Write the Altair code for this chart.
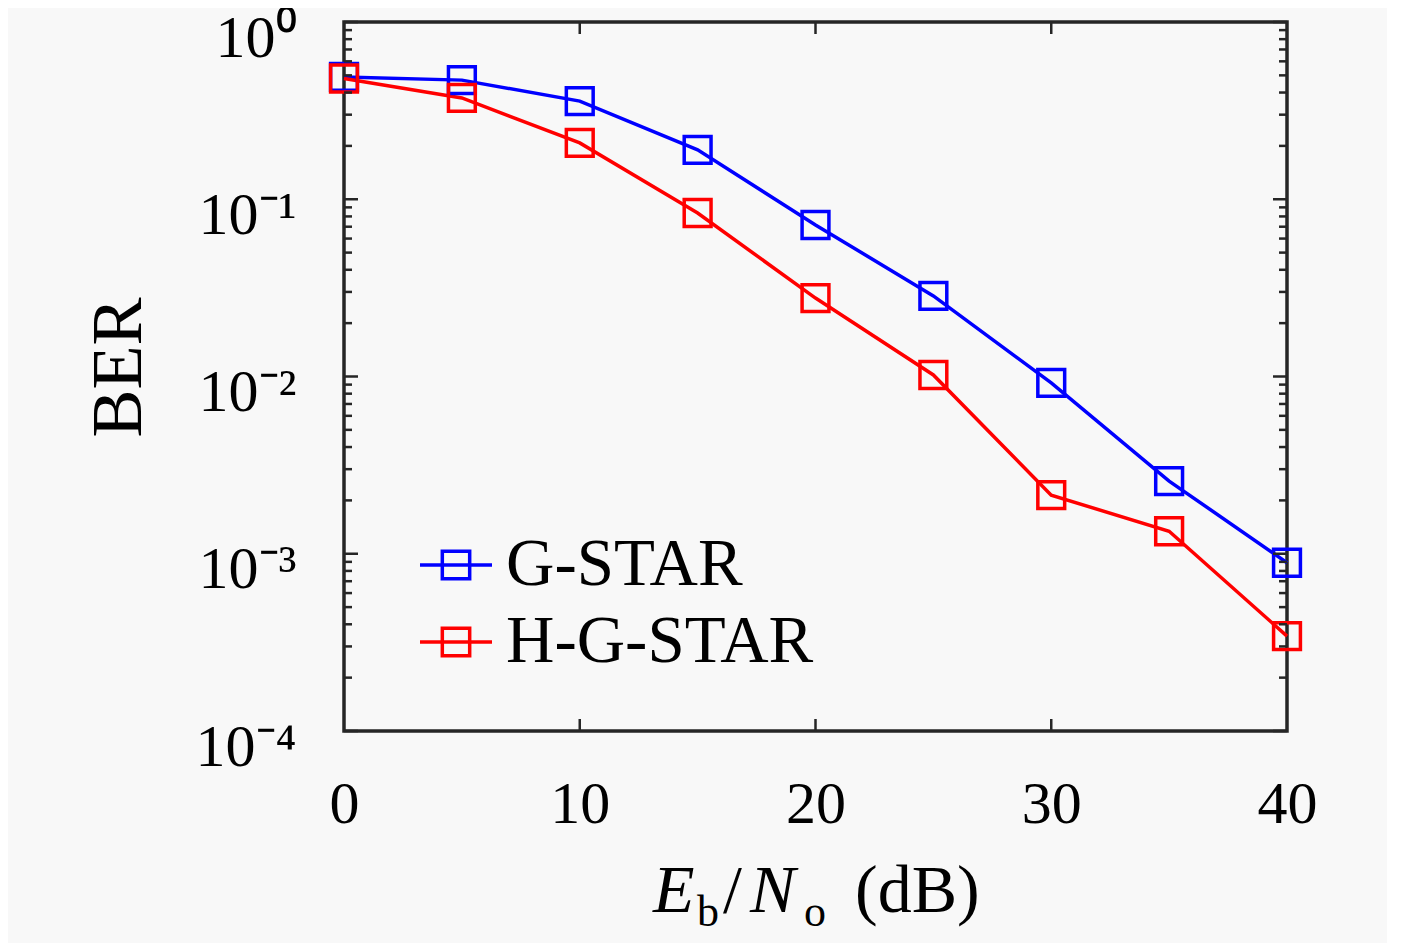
import altair as alt
import pandas as pd

snr = [0, 5, 10, 15, 20, 25, 30, 35, 40]
ber_g = [0.49, 0.47, 0.358, 0.19, 0.0716, 0.0285, 0.0092, 0.00257, 0.00089]
ber_hg = [0.48, 0.373, 0.208, 0.0836, 0.0277, 0.0102, 0.00214, 0.00134, 0.000343]
series = ["G-STAR", "H-G-STAR"]
colors = ["#0000ff", "#ff0000"]
y_ticks = [1e-4, 1e-3, 1e-2, 1e-1, 1]
y_labels = ["10⁻⁴", "10⁻³", "10⁻²", "10⁻¹", "10⁰"]
x_ticks = [0, 10, 20, 30, 40]

W, H = 943, 709
FONT = "Liberation Serif"
AX = "#262626"

df = pd.DataFrame({
    "snr": snr * 2,
    "ber": ber_g + ber_hg,
    "scheme": [series[0]] * len(snr) + [series[1]] * len(snr),
})

major = pd.DataFrame({"v": y_ticks})
minor = pd.DataFrame({"v": [m * 10.0 ** k for k in range(-4, 0) for m in range(2, 10)]})
xt = pd.DataFrame({"v": [10, 20, 30]})

xs = alt.Scale(domain=[0, 40], nice=False)
ys = alt.Scale(type="log", domain=[1e-4, 1], nice=False)

label_expr = "[" + ",".join("'%s'" % s for s in y_labels) + "][round(log(datum.value)/LN10)+4]"

color = alt.Color("scheme:N", scale=alt.Scale(domain=series, range=colors),
                  legend=alt.Legend(
                      title=None, orient="none", legendX=74, legendY=505,
                      symbolType="M-1,0H1M-0.38,-0.38H0.38V0.38H-0.38Z",
                      symbolSize=5184, symbolStrokeWidth=3.5,
                      symbolFillColor="transparent",
                      labelFont=FONT, labelFontSize=67, labelColor="#000",
                      labelOffset=12, rowPadding=6, padding=0,
                      labelLimit=600))

base = alt.Chart(df).encode(
    x=alt.X("snr:Q", scale=xs,
            axis=alt.Axis(values=x_ticks, title=None, ticks=False, domain=False,
                          grid=False, labelFont=FONT, labelFontSize=60,
                          labelColor="#000", labelPadding=44, labelFlush=False)),
    y=alt.Y("ber:Q", scale=ys,
            axis=alt.Axis(values=y_ticks, title="BER", ticks=False, domain=False,
                          grid=False, labelFont=FONT, labelFontSize=60,
                          labelColor="#000", labelPadding=48, labelExpr=label_expr,
                          labelFlush=False, labelBaseline="alphabetic", labelOffset=34,
                          titleFont=FONT, titleFontSize=72, titleFontWeight="normal",
                          titleColor="#000", titlePadding=40, titleY=345)),
)

lines = base.mark_line(strokeWidth=3.5).encode(color=color)
pts = base.mark_point(shape="square", filled=False, size=720, strokeWidth=3.5,
                      opacity=1).encode(
    color=alt.Color("scheme:N", scale=alt.Scale(domain=series, range=colors), legend=None))

def yrule(d, x0, x1):
    return alt.Chart(d).mark_rule(color=AX, strokeWidth=2.5).encode(
        y=alt.Y("v:Q", scale=ys), x=alt.value(x0), x2=alt.value(x1))

def xrule(d, y0, y1):
    return alt.Chart(d).mark_rule(color=AX, strokeWidth=2.5).encode(
        x=alt.X("v:Q", scale=xs), y=alt.value(y0), y2=alt.value(y1))

ticks = [
    yrule(major, 0, 14), yrule(minor, 0, 8),
    yrule(major, W - 14, W), yrule(minor, W - 8, W),
    xrule(xt, 0, 12), xrule(xt, H - 12, H),
]

def txt(s, x, y, size, style="normal"):
    return alt.Chart(pd.DataFrame({"t": [s]})).mark_text(
        font=FONT, fontSize=size, fontStyle=style, color="#000",
        align="left", baseline="alphabetic").encode(
        text="t:N", x=alt.value(x), y=alt.value(y))

xtitle = [
    txt("E", 309, 890, 68, "italic"),
    txt("b", 353, 904, 44),
    txt("/", 379, 890, 68),
    txt("N", 406, 890, 68, "italic"),
    txt("o", 460, 904, 44),
    txt("(dB)", 511, 890, 68),
]

chart = alt.layer(lines, pts, *ticks, *xtitle).properties(
    width=W, height=H,
    autosize=alt.AutoSizeParams(type="none"),
    padding={"left": 336, "top": 14, "right": 100, "bottom": 212},
    background="#f8f8f8",
).configure_view(stroke=AX, strokeWidth=3.5)

chart.save("out.html", embed_options={"renderer": "svg", "actions": False})
